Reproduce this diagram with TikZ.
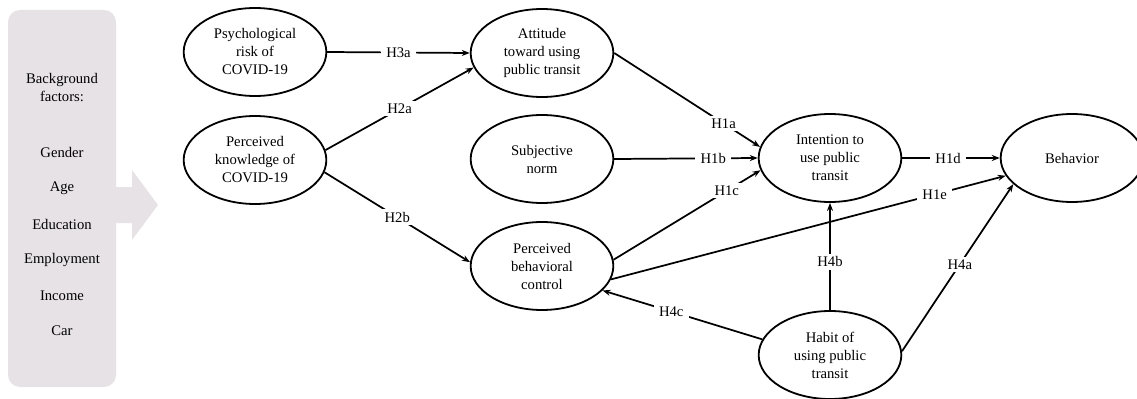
\documentclass[tikz,border=0pt]{standalone}
\usepackage{fontspec}
\setmainfont{Liberation Serif}
\usetikzlibrary{shapes.geometric,arrows.meta}
\definecolor{boxgray}{HTML}{E7E2E5}
\definecolor{ink}{HTML}{000000}
\tikzset{
  construct/.style={ellipse, draw=ink, line width=1.35pt, minimum width=107pt, minimum height=66pt, inner sep=0pt, align=center, font=\fontsize{11}{13.5}\selectfont},
  hypLabel/.style={fill=white, inner xsep=4pt, inner ysep=2pt, text=ink, font=\fontsize{11}{13.5}\selectfont},
  hypArrow/.style={draw=ink, line width=1.3pt, -{Stealth[length=6pt,width=4.5pt]}},
  factorText/.style={text=ink, font=\fontsize{11}{13.5}\selectfont}
}

\begin{document}
\begin{tikzpicture}[x=0.75pt, y=-0.75pt]
  \useasboundingbox (0,0) rectangle (1137,399);

  % background factors
  \fill[boxgray, rounded corners=9pt] (8,10) rectangle (116,387);
  \fill[boxgray] (116,187) -- (132,187) -- (132,170) -- (158,205) -- (132,240) -- (132,223) -- (116,223) -- cycle;
  \node[factorText, align=center] (bgHead) at (62,88) {Background\\factors:};
  \node[factorText] (gender) at (62,152) {Gender};
  \node[factorText] (age) at (62,188) {Age};
  \node[factorText] (edu) at (62,224) {Education};
  \node[factorText] (employ) at (62,260) {Employment};
  \node[factorText] (income) at (62,296) {Income};
  \node[factorText] (car) at (62,331) {Car};

  % constructs
  \node[construct] (psych) at (255,52) {Psychological\\risk of\\COVID-19};
  \node[construct] (know) at (255,160) {Perceived\\knowledge of\\COVID-19};
  \node[construct] (att) at (542,53) {Attitude\\toward using\\public transit};
  \node[construct] (subj) at (542,159) {Subjective\\norm};
  \node[construct] (pbc) at (542,266) {Perceived\\behavioral\\control};
  \node[construct] (intent) at (830,158) {Intention to\\use public\\transit};
  \node[construct] (habit) at (830,355) {Habit of\\using public\\transit};
  \node[construct] (behav) at (1072,158) {Behavior};

  % hypotheses
  \draw[hypArrow] (psych.east) -- node[hypLabel] {H3a} (att.west);
  \draw[hypArrow] (know.8) -- node[hypLabel] {H2a} (att.192);
  \draw[hypArrow] (know.350) -- node[hypLabel] {H2b} (pbc.177);
  \draw[hypArrow] (att.east) -- node[hypLabel, pos=0.75] {H1a} (intent.171);
  \draw[hypArrow] (subj.east) -- node[hypLabel, pos=0.69] {H1b} (intent.west);
  \draw[hypArrow] (pbc.5) -- node[hypLabel, pos=0.77] {H1c} (intent.190);
  \draw[hypArrow] (intent.east) -- node[hypLabel, pos=0.47] {H1d} (behav.west);
  \draw[hypArrow] (pbc.349) -- node[hypLabel, pos=0.82] {H1e} (behav.195);
  \draw[hypArrow] (habit.north) -- node[hypLabel, pos=0.45] {H4b} (intent.south);
  \draw[hypArrow] (habit.3) -- node[hypLabel, pos=0.52] {H4a} (behav.204);
  \draw[hypArrow] (habit.167) -- node[hypLabel, pos=0.57] {H4c} (pbc.338);
\end{tikzpicture}
\end{document}
